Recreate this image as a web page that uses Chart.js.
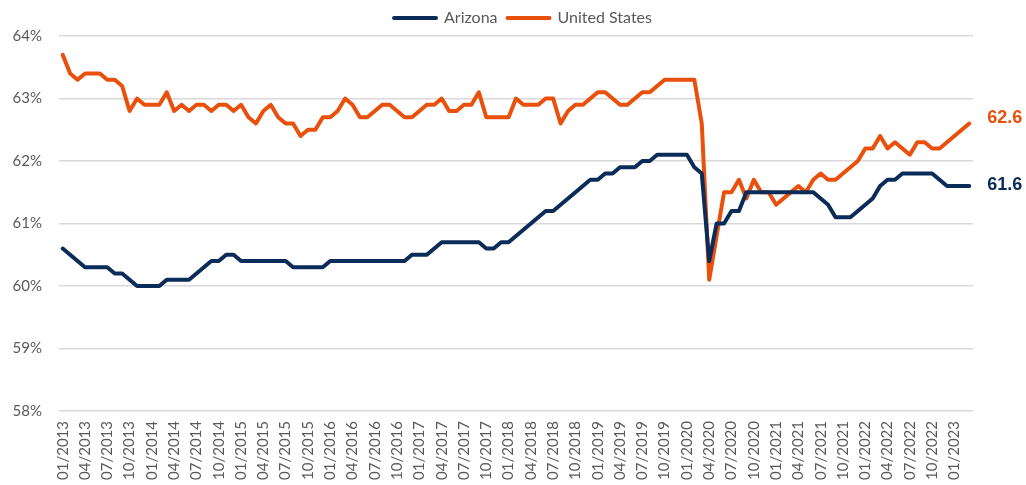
<!DOCTYPE html>
<html>
<head>
<meta charset="utf-8">
<script src="https://cdn.jsdelivr.net/npm/chart.js@4"></script>
<style>
html,body{margin:0;padding:0;background:#fff;}
#wrap{width:1026px;height:485px;}
</style>
</head>
<body>
<div id="wrap"><canvas id="c" width="1026" height="485"></canvas></div>
<script>
const months = [
'01/2013','02/2013','03/2013','04/2013','05/2013','06/2013','07/2013','08/2013','09/2013','10/2013','11/2013','12/2013',
'01/2014','02/2014','03/2014','04/2014','05/2014','06/2014','07/2014','08/2014','09/2014','10/2014','11/2014','12/2014',
'01/2015','02/2015','03/2015','04/2015','05/2015','06/2015','07/2015','08/2015','09/2015','10/2015','11/2015','12/2015',
'01/2016','02/2016','03/2016','04/2016','05/2016','06/2016','07/2016','08/2016','09/2016','10/2016','11/2016','12/2016',
'01/2017','02/2017','03/2017','04/2017','05/2017','06/2017','07/2017','08/2017','09/2017','10/2017','11/2017','12/2017',
'01/2018','02/2018','03/2018','04/2018','05/2018','06/2018','07/2018','08/2018','09/2018','10/2018','11/2018','12/2018',
'01/2019','02/2019','03/2019','04/2019','05/2019','06/2019','07/2019','08/2019','09/2019','10/2019','11/2019','12/2019',
'01/2020','02/2020','03/2020','04/2020','05/2020','06/2020','07/2020','08/2020','09/2020','10/2020','11/2020','12/2020',
'01/2021','02/2021','03/2021','04/2021','05/2021','06/2021','07/2021','08/2021','09/2021','10/2021','11/2021','12/2021',
'01/2022','02/2022','03/2022','04/2022','05/2022','06/2022','07/2022','08/2022','09/2022','10/2022','11/2022','12/2022',
'01/2023','02/2023','03/2023'
];

const arizona = [
60.6,60.5,60.4,60.3,60.3,60.3,60.3,60.2,60.2,60.1,60.0,60.0,
60.0,60.0,60.1,60.1,60.1,60.1,60.2,60.3,60.4,60.4,60.5,60.5,
60.4,60.4,60.4,60.4,60.4,60.4,60.4,60.3,60.3,60.3,60.3,60.3,
60.4,60.4,60.4,60.4,60.4,60.4,60.4,60.4,60.4,60.4,60.4,60.5,
60.5,60.5,60.6,60.7,60.7,60.7,60.7,60.7,60.7,60.6,60.6,60.7,
60.7,60.8,60.9,61.0,61.1,61.2,61.2,61.3,61.4,61.5,61.6,61.7,
61.7,61.8,61.8,61.9,61.9,61.9,62.0,62.0,62.1,62.1,62.1,62.1,
62.1,61.9,61.8,60.4,61.0,61.0,61.2,61.2,61.5,61.5,61.5,61.5,
61.5,61.5,61.5,61.5,61.5,61.5,61.4,61.3,61.1,61.1,61.1,61.2,
61.3,61.4,61.6,61.7,61.7,61.8,61.8,61.8,61.8,61.8,61.7,61.6,
61.6,61.6,61.6
];

const unitedStates = [
63.7,63.4,63.3,63.4,63.4,63.4,63.3,63.3,63.2,62.8,63.0,62.9,
62.9,62.9,63.1,62.8,62.9,62.8,62.9,62.9,62.8,62.9,62.9,62.8,
62.9,62.7,62.6,62.8,62.9,62.7,62.6,62.6,62.4,62.5,62.5,62.7,
62.7,62.8,63.0,62.9,62.7,62.7,62.8,62.9,62.9,62.8,62.7,62.7,
62.8,62.9,62.9,63.0,62.8,62.8,62.9,62.9,63.1,62.7,62.7,62.7,
62.7,63.0,62.9,62.9,62.9,63.0,63.0,62.6,62.8,62.9,62.9,63.0,
63.1,63.1,63.0,62.9,62.9,63.0,63.1,63.1,63.2,63.3,63.3,63.3,
63.3,63.3,62.6,60.1,60.8,61.5,61.5,61.7,61.4,61.7,61.5,61.5,
61.3,61.4,61.5,61.6,61.5,61.7,61.8,61.7,61.7,61.8,61.9,62.0,
62.2,62.2,62.4,62.2,62.3,62.2,62.1,62.3,62.3,62.2,62.2,62.3,
62.4,62.5,62.6
];

const yTicks = { min: 58, max: 64, step: 1 };

const NAVY = '#0b2c58';
const ORANGE = '#e8500c';
const TEXT = '#595959';
const FONT = 'Lato, "Open Sans", sans-serif';

const endLabels = {
  id: 'endLabels',
  afterDatasetsDraw(chart) {
    const ctx = chart.ctx;
    ctx.save();
    ctx.font = 'bold 18px "Liberation Sans", Arial, sans-serif';
    ctx.textBaseline = 'middle';
    ctx.textAlign = 'left';
    chart.data.datasets.forEach((ds, i) => {
      const meta = chart.getDatasetMeta(i);
      const pt = meta.data[meta.data.length - 1];
      const v = ds.data[ds.data.length - 1];
      ctx.fillStyle = ds.borderColor;
      ctx.fillText(v.toFixed(1), pt.x + 18, pt.y + (ds.labelDy || 0));
    });
    ctx.restore();
  }
};

const legendShift = {
  id: 'legendShift',
  afterLayout(chart) {
    if (chart.legend) { chart.legend.left += 10; chart.legend.right += 10; }
  }
};

new Chart(document.getElementById('c'), {
  type: 'line',
  data: {
    labels: months,
    datasets: [
      { label: 'Arizona', data: arizona, borderColor: NAVY, backgroundColor: NAVY,
        borderWidth: 4, pointRadius: 0, tension: 0, borderCapStyle: 'round', borderJoinStyle: 'round', labelDy: -1 },
      { label: 'United States', data: unitedStates, borderColor: ORANGE, backgroundColor: ORANGE,
        borderWidth: 4, pointRadius: 0, tension: 0, borderCapStyle: 'round', borderJoinStyle: 'round', labelDy: -5 }
    ]
  },
  options: {
    responsive: false,
    animation: false,
    layout: { padding: { left: 0, right: 0, top: 0, bottom: 0 } },
    plugins: {
      legend: {
        position: 'top',
        labels: {
          color: TEXT,
          font: { family: FONT, size: 16 },
          usePointStyle: true,
          pointStyleWidth: 42,
          padding: 10,
          generateLabels(chart) {
            return chart.data.datasets.map((ds, i) => ({
              text: ds.label, fillStyle: ds.borderColor, strokeStyle: ds.borderColor,
              lineWidth: 4, lineCap: 'round', pointStyle: 'line', hidden: false,
              datasetIndex: i, fontColor: TEXT
            }));
          }
        }
      },
      tooltip: { enabled: false }
    },
    scales: {
      x: {
        type: 'category',
        offset: true,
        grid: { display: false, drawTicks: false },
        border: { display: false },
        ticks: {
          autoSkip: false, minRotation: 90, maxRotation: 90, padding: 10,
          color: TEXT, font: { family: FONT, size: 15 },
          callback(val, idx) { return idx % 3 === 0 ? this.getLabelForValue(val) : ''; }
        },
        afterFit(s) { s.height = 74; }
      },
      y: {
        min: yTicks.min, max: yTicks.max,
        grid: { color: '#d9d9d9', lineWidth: 1.5, drawTicks: false },
        border: { display: false },
        ticks: { stepSize: yTicks.step, padding: 17, color: TEXT, font: { family: FONT, size: 15 },
          callback(v) { return v + '%'; } },
        afterFit(s) { s.width = 59; }
      },
      yR: {
        position: 'right',
        min: 0, max: 1,
        grid: { display: false, drawTicks: false },
        border: { display: false },
        ticks: { display: false },
        afterFit(s) { s.width = 53; }
      }
    }
  },
  plugins: [endLabels, legendShift]
});
</script>
</body>
</html>
